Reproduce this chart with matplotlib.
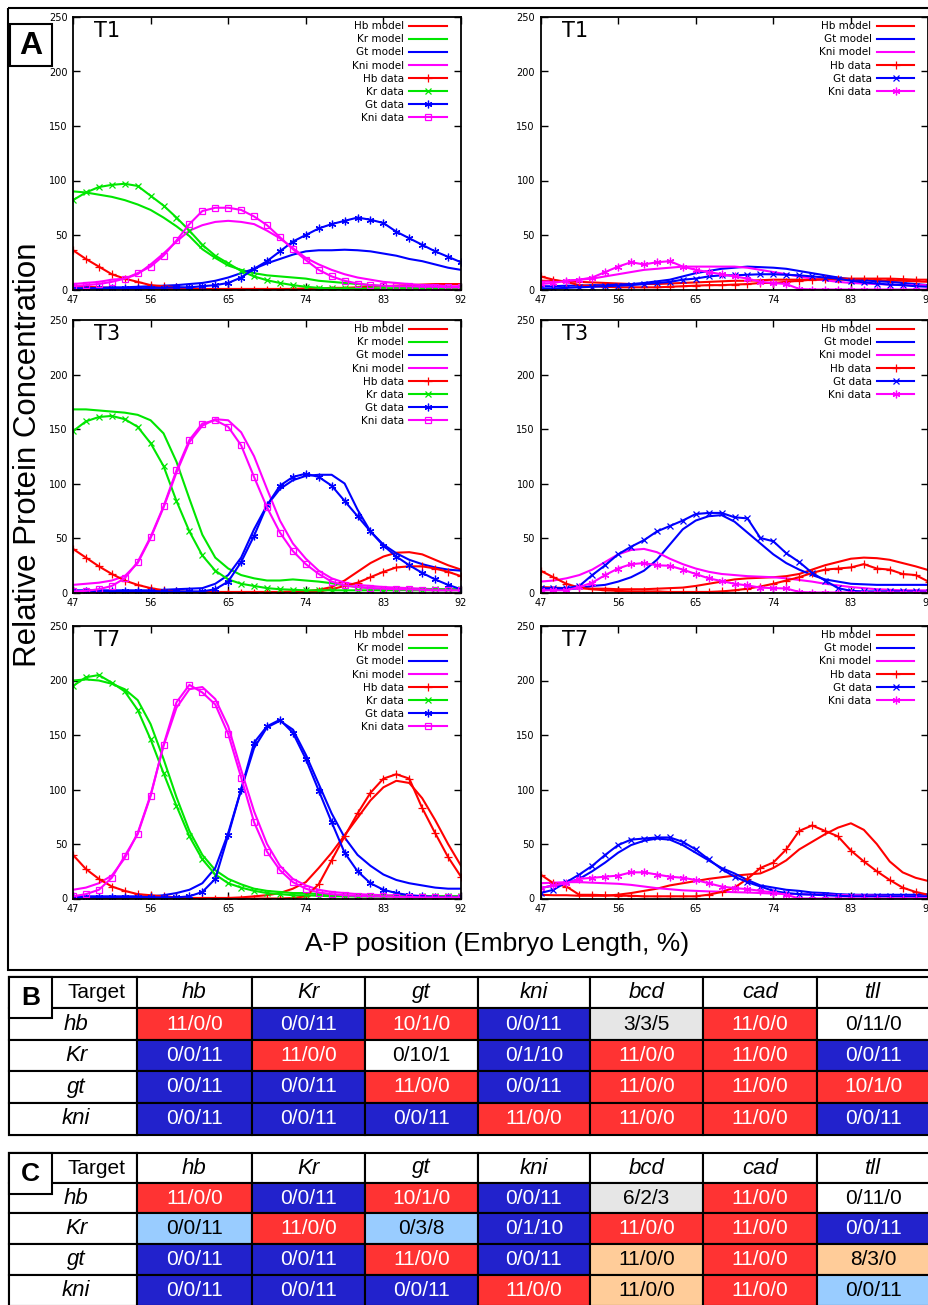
import matplotlib.pyplot as plt
import numpy as np
from matplotlib.patches import Rectangle

# A-P positions (% embryo length) where the profiles were read
ap = [47, 48.5, 50, 51.5, 53, 54.5, 56, 57.5, 59, 60.5, 62, 63.5, 65, 66.5, 68, 69.5,
      71, 72.5, 74, 75.5, 77, 78.5, 80, 81.5, 83, 84.5, 86, 87.5, 89, 90.5, 92]

# ---- left column (full network) ----
t1_hb_model = [3, 2.5, 2, 1.5, 1, 1, 0.5, 0.5, 0.5, 0.5, 0.5, 0.5, 0.5, 0.5, 0.5, 0.5,
               0.5, 0.5, 1, 1, 1.5, 1.5, 2, 2.5, 3, 3.5, 4, 4.5, 5, 5, 5]
t1_kr_model = [90, 89, 87, 85, 82, 78, 73, 66, 58, 49, 37, 29, 22, 18, 15, 13,
               12, 11, 10, 8, 7, 6, 5, 4, 3, 2.5, 2, 2, 1.5, 1.5, 1]
t1_gt_model = [1, 1, 1.5, 2, 2, 2.5, 3, 3.5, 4, 5, 6, 8, 11, 15, 19, 24,
               28, 32, 35, 36, 36, 36.5, 36, 35, 33, 31, 28, 26, 23, 20, 18]
t1_kni_model = [5, 6, 7, 9, 10, 14, 23, 33, 44, 54, 59, 62, 63, 62, 60, 54,
                47, 38, 29, 23, 18, 14, 11, 9, 7, 6, 5, 4, 4, 3, 3]
t1_hb_data = [36, 28, 21, 14, 10, 7, 4, 3, 2, 1, 0.5, 0, 0, 0, 0, 0,
              0, 0, 0, 0, 0, 0, 0, 0, 0, 0, 0, 0, 0, 0, 0]
t1_kr_data = [82, 89, 94, 96, 97, 95, 86, 77, 66, 54, 41, 31, 24, 17, 12, 8.5,
              6, 4, 2.5, 1.5, 1, 1, 1, 1, 1, 1, 1, 1, 1, 1, 1]
t1_gt_data = [1, 1, 1, 1, 1, 1, 1.5, 1.5, 2, 2, 3, 4, 6, 11, 19, 26,
              35, 44, 50, 56, 60, 63, 66, 64, 61, 53, 47, 41, 35, 30, 25]
t1_kni_data = [3, 4, 5, 7, 10, 15, 21, 31, 45, 60, 72, 75, 75, 73, 67, 59,
               48, 37, 27, 18, 12, 8, 5.5, 4, 3.5, 3, 3, 2.5, 2.5, 2, 2]

t3_hb_model = [1, 1, 0.5, 0.5, 0.5, 0.5, 0.5, 0.5, 0.5, 0.5, 0.5, 0.5, 0.5, 0.5, 0.5, 0.5,
               0.5, 1, 1, 2.5, 5, 11, 19, 27, 33, 36.5, 37, 35, 30, 25, 21]
t3_kr_model = [168, 168, 167, 166, 165, 163, 158, 146, 120, 86, 53, 32, 22, 16, 13, 11,
               11, 12, 11, 10, 8.5, 6.5, 5, 4, 3, 2.5, 2, 2, 2, 2, 2]
t3_gt_model = [2, 2, 2, 2, 2, 2, 2, 2.5, 3, 3.5, 4, 8, 16, 32, 58, 80,
               95, 103, 107, 108, 108, 100, 76, 56, 44, 36, 30, 26, 23, 21, 20]
t3_kni_model = [7, 8, 9, 11, 15, 27, 50, 78, 110, 138, 153, 159, 158, 147, 125, 95,
                66, 45, 31, 20, 13, 9, 7, 6, 5, 4.5, 4, 3.5, 3, 3, 3]
t3_hb_data = [40, 32, 24, 17, 11, 7, 4, 2, 1, 0.5, 0, 0, 0, 0, 0, 0,
              0, 0, 0, 1, 3, 6, 9, 14, 19, 23, 24, 24, 22, 19, 15]
t3_kr_data = [148, 157, 161, 162, 159, 152, 137, 116, 84, 56, 34, 20, 12, 8, 6, 4,
              3, 2.5, 2, 2, 2, 2, 2, 2, 2, 2, 2.5, 2.5, 3, 3, 3]
t3_gt_data = [1, 1, 1, 1, 1, 1, 1, 1, 1, 1, 1, 3, 10, 28, 52, 80,
              98, 106, 109, 106, 98, 84, 70, 56, 43, 33, 25, 18, 12, 7, 3]
t3_kni_data = [1, 1.5, 3, 6, 13, 28, 51, 79, 112, 140, 155, 158, 152, 135, 106, 78,
               55, 38, 26, 17, 10, 6.5, 5, 4, 3.5, 3, 3, 2.5, 2, 2, 2]

t7_hb_model = [1, 1, 0.5, 0.5, 0.5, 0.5, 0.5, 0.5, 0.5, 0.5, 0.5, 0.5, 0.5, 1, 2, 3,
               5, 9, 15, 28, 42, 58, 74, 90, 102, 108, 106, 92, 72, 50, 30]
t7_kr_model = [200, 201, 200, 197, 192, 182, 160, 128, 93, 62, 40, 26, 18, 13, 9, 7,
               6, 5, 5, 4, 3, 2.5, 2, 2, 2, 2, 2, 2, 2, 2, 2]
t7_gt_model = [2, 2, 2, 2, 2, 2, 2, 3, 5, 8, 14, 28, 60, 100, 138, 157,
               163, 155, 132, 105, 78, 56, 40, 30, 22, 17, 14, 12, 10, 9, 9]
t7_kni_model = [8, 10, 14, 21, 37, 60, 95, 140, 175, 192, 194, 183, 158, 118, 80, 50,
                30, 18, 12, 8, 6, 5, 4, 3.5, 3, 3, 2.5, 2.5, 2, 2, 2]
t7_hb_data = [40, 27, 18, 11, 7, 4, 3, 2, 1, 0.5, 0, 0, 0, 0, 0, 0,
              0, 0.5, 2, 13, 35, 57, 78, 97, 110, 114, 110, 83, 60, 38, 20]
t7_kr_data = [195, 203, 205, 198, 190, 173, 146, 115, 85, 57, 36, 22, 14, 10, 7, 5,
              4, 3, 3, 2.5, 2, 2, 2, 2, 2, 2, 2, 2, 2, 2, 2]
t7_gt_data = [1, 1, 1, 1, 1, 1, 1, 1, 1, 2, 6, 18, 58, 100, 143, 158,
              164, 152, 128, 99, 70, 42, 25, 14, 8, 5, 3, 2, 1.5, 1, 1]
t7_kni_data = [2, 4, 8, 19, 39, 59, 94, 141, 180, 196, 189, 178, 151, 111, 70, 43,
               26, 15, 9, 5.5, 4, 3, 2.5, 2, 2, 1.5, 1.5, 1, 1, 1, 1]

# ---- right column (Kr removed) ----
r1_hb_model = [8, 8, 7.5, 7, 6.5, 6, 5.5, 5, 5, 5, 5.5, 6, 6.5, 7, 7.5, 8,
               8, 8.5, 9, 9, 9, 9, 9, 9, 9, 8.5, 8.5, 8, 8, 7.5, 7]
r1_gt_model = [3, 3, 3.5, 3.5, 4, 4, 4.5, 5, 6, 7.5, 9, 12, 15, 17, 19, 20,
               21, 20.5, 20, 19, 17, 15, 13, 11, 9.5, 8.5, 7.5, 7, 6, 5, 4]
r1_kni_model = [7, 7.5, 8, 9, 10, 12, 14, 16, 18, 19, 20, 21, 21, 21, 21, 21,
                20, 18, 16, 14, 12, 10, 8.5, 7, 6, 5.5, 5, 4.5, 4, 4, 4]
r1_hb_data = [12, 9, 7, 4, 3, 2.5, 2, 2, 2, 2, 2.5, 3, 3.5, 4, 4, 4.5,
              5, 6, 6, 7, 8, 9, 9.5, 10, 10, 10, 10, 10, 9.5, 9, 9]
r1_gt_data = [1, 1, 1.5, 2, 2.5, 3, 3.5, 4, 5, 6, 7, 9, 10, 12, 13, 13,
              13.5, 14, 14, 13.5, 13, 12, 11, 10, 8, 6.5, 5.5, 4.5, 4, 3, 2.5]
r1_kni_data = [5, 6, 8, 9, 11, 16, 21, 25, 23, 25, 26, 21, 18, 16, 14, 12,
               10, 7, 6, 5, 0.5, 0, 0, 0, 0, 0, 0, 0, 0, 0, 0]

r3_hb_model = [5, 4.5, 4, 4, 3.5, 3.5, 3, 3, 3, 3.5, 4, 4.5, 6, 8, 10, 12,
               13, 13.5, 14, 15, 17, 21, 25, 28, 31, 32, 31.5, 30, 27, 24, 20.5]
r3_gt_model = [2, 2.5, 3, 4, 6, 7, 10, 14, 20, 30, 44, 58, 66, 70, 71, 65,
               55, 45, 35, 27, 21, 16, 12, 10, 8, 7.5, 7, 7, 7, 7, 7]
r3_kni_model = [10, 11, 13, 16, 21, 28, 35, 39, 40, 37, 31, 26, 22, 19, 17, 16,
                15, 14.5, 14, 13, 11.5, 10, 8, 6.5, 5, 4, 3, 2.5, 2, 2, 2]
r3_hb_data = [20, 14, 8, 4.5, 3, 2, 1.5, 1, 1, 1, 0.5, 0.5, 0.5, 0.5, 1, 2,
              3.5, 5.5, 8, 11, 14, 18, 21, 22, 23, 26, 22, 21, 17, 16, 10]
r3_gt_data = [4, 4, 4, 6, 16, 25, 35, 42, 48, 56, 61, 66, 72, 73, 73, 69,
              68, 50, 47, 36, 28, 18, 11, 4, 1.5, 1, 1, 1, 1, 1, 0.5]
r3_kni_data = [2, 2, 2, 5, 9, 16, 22, 26, 27, 25, 24.5, 21, 17, 13, 10.5, 8,
               6.5, 4.5, 4, 3.7, 0.5, 0, 0, 0, 0, 0, 0, 0, 0, 0, 0]

r7_hb_model = [3.4, 3, 3, 2.5, 2.5, 2.5, 3.5, 5, 7, 9, 12, 14, 16, 18, 19.5, 21,
               22, 23, 28, 35, 45, 52, 59, 65, 69, 63, 50, 34, 24, 19, 16]
r7_gt_model = [9.5, 12, 14, 18, 25, 33, 42, 49, 53, 55, 54, 49, 42, 35, 28, 23,
               17, 12, 10, 8, 7, 5.5, 5, 4, 3.5, 3.4, 3.4, 3.4, 3.4, 3.4, 3.4]
r7_kni_model = [14, 14.5, 15, 15, 14.5, 14, 13.5, 12.5, 11, 9.5, 8.5, 7.5, 7, 6.5, 6.2, 5.8,
                5.5, 5, 4.5, 4.3, 4, 3.7, 3.4, 3.2, 3, 2.8, 2.5, 2.3, 2, 2, 2]
r7_hb_data = [22, 14, 11, 3.4, 3.4, 3, 2.5, 2.5, 2, 2, 2, 2, 2, 3.5, 6, 10,
              18, 28, 33, 45, 62, 67, 62, 57, 44, 34, 25, 17, 10, 6, 3.4]
r7_gt_data = [5, 8, 15, 22, 30, 40, 49, 54, 55, 56, 56, 52, 45, 36, 27, 20,
              15, 11, 7, 5, 4, 3.5, 3, 2.5, 2, 2, 2, 2, 2, 2, 2]
r7_kni_data = [9.5, 12, 14, 18, 19, 20, 21, 24, 24, 22, 20, 19, 17, 14, 11, 9.5,
               8.6, 7, 5.5, 3.5, 0, 0, 0, 0, 0, 0, 0, 0, 0, 0, 0]

stages = ['T1', 'T3', 'T7']
x_ticks = [47, 56, 65, 74, 83, 92]
y_ticks = [0, 50, 100, 150, 200, 250]

# ---- tables B and C ----
gene_cols = ['hb', 'Kr', 'gt', 'kni', 'bcd', 'cad', 'tll']
gene_rows = ['hb', 'Kr', 'gt', 'kni']
b_values = [['11/0/0', '0/0/11', '10/1/0', '0/0/11', '3/3/5', '11/0/0', '0/11/0'],
            ['0/0/11', '11/0/0', '0/10/1', '0/1/10', '11/0/0', '11/0/0', '0/0/11'],
            ['0/0/11', '0/0/11', '11/0/0', '0/0/11', '11/0/0', '11/0/0', '10/1/0'],
            ['0/0/11', '0/0/11', '0/0/11', '11/0/0', '11/0/0', '11/0/0', '0/0/11']]
b_kinds = [['R', 'B', 'R', 'B', 'G', 'R', 'W'],
           ['B', 'R', 'W', 'B', 'R', 'R', 'B'],
           ['B', 'B', 'R', 'B', 'R', 'R', 'R'],
           ['B', 'B', 'B', 'R', 'R', 'R', 'B']]
c_values = [['11/0/0', '0/0/11', '10/1/0', '0/0/11', '6/2/3', '11/0/0', '0/11/0'],
            ['0/0/11', '11/0/0', '0/3/8', '0/1/10', '11/0/0', '11/0/0', '0/0/11'],
            ['0/0/11', '0/0/11', '11/0/0', '0/0/11', '11/0/0', '11/0/0', '8/3/0'],
            ['0/0/11', '0/0/11', '0/0/11', '11/0/0', '11/0/0', '11/0/0', '0/0/11']]
c_kinds = [['R', 'B', 'R', 'B', 'G', 'R', 'W'],
           ['L', 'R', 'L', 'B', 'R', 'R', 'B'],
           ['B', 'B', 'R', 'B', 'O', 'R', 'O'],
           ['B', 'B', 'B', 'R', 'O', 'R', 'L']]

RED, GREEN, BLUE, MAG = '#ff0000', '#00e600', '#0000ff', '#ff00ff'
ASTER = (6, 2, 0)
kind_fill = {'R': '#ff3333', 'B': '#2222cc', 'G': '#e6e6e6', 'W': 'white',
             'L': '#99ccff', 'O': '#ffcc99'}

left_sets = [
    [t1_hb_model, t1_kr_model, t1_gt_model, t1_kni_model, t1_hb_data, t1_kr_data, t1_gt_data, t1_kni_data],
    [t3_hb_model, t3_kr_model, t3_gt_model, t3_kni_model, t3_hb_data, t3_kr_data, t3_gt_data, t3_kni_data],
    [t7_hb_model, t7_kr_model, t7_gt_model, t7_kni_model, t7_hb_data, t7_kr_data, t7_gt_data, t7_kni_data],
]
right_sets = [
    [r1_hb_model, r1_gt_model, r1_kni_model, r1_hb_data, r1_gt_data, r1_kni_data],
    [r3_hb_model, r3_gt_model, r3_kni_model, r3_hb_data, r3_gt_data, r3_kni_data],
    [r7_hb_model, r7_gt_model, r7_kni_model, r7_hb_data, r7_gt_data, r7_kni_data],
]
left_styles = [('Hb model', RED, None), ('Kr model', GREEN, None), ('Gt model', BLUE, None),
               ('Kni model', MAG, None), ('Hb data', RED, '+'), ('Kr data', GREEN, 'x'),
               ('Gt data', BLUE, ASTER), ('Kni data', MAG, 's')]
right_styles = [('Hb model', RED, None), ('Gt model', BLUE, None), ('Kni model', MAG, None),
                ('Hb data', RED, '+'), ('Gt data', BLUE, 'x'), ('Kni data', MAG, ASTER)]

FW, FH = 929, 1305
fig = plt.figure(figsize=(FW / 100, FH / 100), dpi=100)


def px_axes(x0, top, w, h):
    return fig.add_axes([x0 / FW, 1 - (top + h) / FH, w / FW, h / FH])


def draw_panel(ax, stage, curves, styles):
    for ys, (label, color, marker) in zip(curves, styles):
        if marker is None:
            ax.plot(ap, ys, color=color, lw=1.5, label=label)
        else:
            mfc = 'none' if marker == 's' else color
            ms = {'+': 6, 'x': 4.5, 's': 5}.get(marker, 5.5)
            ax.plot(ap, ys, color=color, lw=1.5, marker=marker, ms=ms, mew=0.9,
                    mfc=mfc, label=label)
    ax.set_xlim(47, 92)
    ax.set_ylim(0, 250)
    ax.set_xticks(x_ticks)
    ax.set_yticks(y_ticks)
    ax.tick_params(direction='in', length=5, width=1, top=True, right=True,
                   labelsize=7, pad=4)
    for s in ax.spines.values():
        s.set_linewidth(1.3)
    ax.text(0.055, 0.95, stage, transform=ax.transAxes, fontsize=15, va='center')
    ax.legend(loc='upper right', bbox_to_anchor=(1 - 10 / 388, 1), frameon=False,
              markerfirst=False, fontsize=7.5, handlelength=3.6, handletextpad=0.5,
              labelspacing=0.3, borderaxespad=0.2, borderpad=0.2, numpoints=1)


row_tops = [17, 320, 626]
for i, stage in enumerate(stages):
    axl = px_axes(73, row_tops[i], 388, 272.5)
    draw_panel(axl, stage, left_sets[i], left_styles)
    axr = px_axes(540.5, row_tops[i], 388, 272.5)
    draw_panel(axr, stage, right_sets[i], right_styles)

# overlay in pixel coordinates for boxes, labels and tables
ov = fig.add_axes([0, 0, 1, 1])
ov.set_xlim(0, FW)
ov.set_ylim(FH, 0)
ov.axis('off')

ov.add_patch(Rectangle((8, 8), 940, 962, fill=False, ec='black', lw=1.5, clip_on=False))
ov.add_patch(Rectangle((10, 24), 42, 42, fc='white', ec='black', lw=1.5))
ov.text(31, 46, 'A', fontsize=23, fontweight='bold', ha='center', va='center',
        family='Liberation Sans')
ov.text(28, 455, 'Relative Protein Concentration', rotation=90, fontsize=22.5,
        ha='center', va='center', family='Liberation Sans')
ov.text(497, 944, 'A-P position (Embryo Length, %)', fontsize=19, ha='center',
        va='center', family='Liberation Sans')

col_x = [137, 252, 365, 478, 590, 703, 817, 930]
tfont = 'Liberation Sans'


def draw_table(rows_y, values, kinds, letter):
    ov.add_patch(Rectangle((9, rows_y[0]), col_x[0] - 9, rows_y[-1] - rows_y[0],
                           fc='white', ec='black', lw=1.5))
    ov.add_patch(Rectangle((9, rows_y[0]), col_x[0] - 9, rows_y[1] - rows_y[0],
                           fc='white', ec='black', lw=1.5))
    ov.text(97, (rows_y[0] + rows_y[1]) / 2, 'Target', fontsize=15, ha='center',
            va='center', family=tfont)
    for j, g in enumerate(gene_cols):
        ov.add_patch(Rectangle((col_x[j], rows_y[0]), col_x[j + 1] - col_x[j],
                               rows_y[1] - rows_y[0], fc='white', ec='black', lw=1.5))
        ov.text((col_x[j] + col_x[j + 1]) / 2, (rows_y[0] + rows_y[1]) / 2, g,
                fontsize=16, style='italic', ha='center', va='center', family=tfont)
    for i, g in enumerate(gene_rows):
        y0, y1 = rows_y[i + 1], rows_y[i + 2]
        ov.add_patch(Rectangle((9, y0), col_x[0] - 9, y1 - y0, fc='white', ec='black', lw=1.5))
        ov.text(76, (y0 + y1) / 2, g, fontsize=16, style='italic', ha='center',
                va='center', family=tfont)
        for j in range(len(gene_cols)):
            k = kinds[i][j]
            ov.add_patch(Rectangle((col_x[j], y0), col_x[j + 1] - col_x[j], y1 - y0,
                                   fc=kind_fill[k], ec='black', lw=1.5))
            ov.text((col_x[j] + col_x[j + 1]) / 2, (y0 + y1) / 2, values[i][j],
                    fontsize=15, ha='center', va='center', family=tfont,
                    color='white' if k in ('R', 'B') else 'black')
    ov.add_patch(Rectangle((9, rows_y[0]), 43, 41, fc='white', ec='black', lw=1.5))
    ov.text(30.5, rows_y[0] + 21, letter, fontsize=19, fontweight='bold', ha='center',
            va='center', family='Liberation Sans')


draw_table([977, 1008, 1040, 1071, 1103, 1135], b_values, b_kinds, 'B')
draw_table([1153, 1183, 1213, 1244, 1275, 1306], c_values, c_kinds, 'C')

fig.savefig('out.png', dpi=100)
